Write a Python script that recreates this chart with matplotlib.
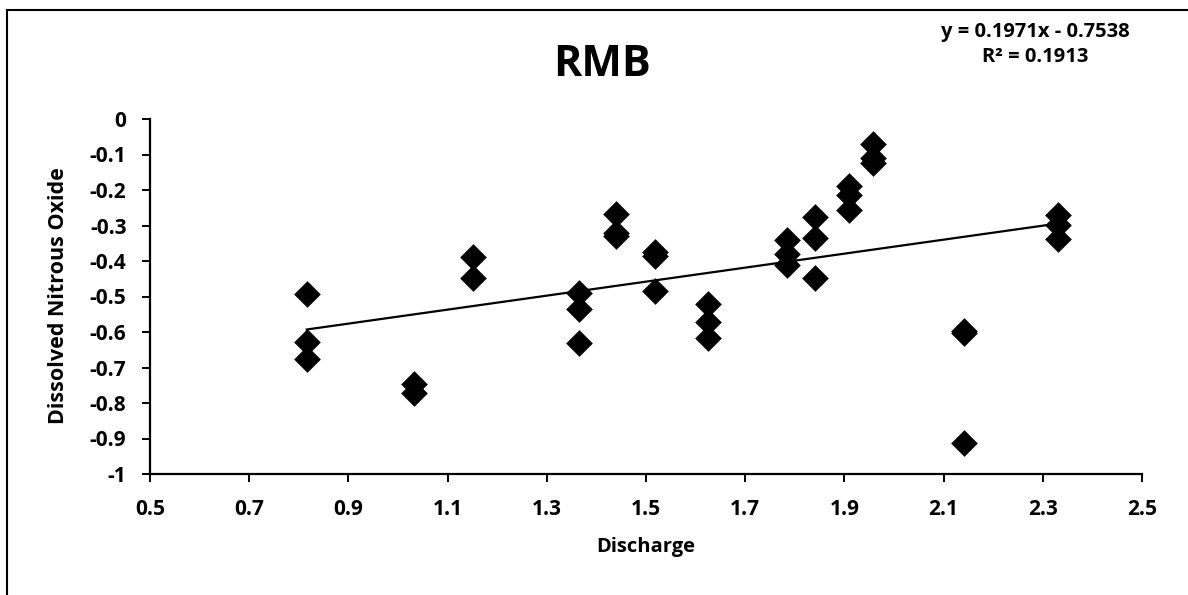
import matplotlib
matplotlib.use("Agg")
import matplotlib.pyplot as plt
from matplotlib.lines import Line2D
import numpy as np

# Discharge vs dissolved nitrous oxide, site RMB
discharge = [0.816, 0.816, 0.816,
             1.032, 1.032,
             1.152, 1.152,
             1.365, 1.365, 1.365,
             1.440, 1.440, 1.440,
             1.519, 1.519, 1.519,
             1.626, 1.626, 1.626,
             1.784, 1.784, 1.784,
             1.841, 1.841, 1.841,
             1.909, 1.909, 1.909,
             1.957, 1.957, 1.957,
             2.141, 2.141, 2.141,
             2.330, 2.330, 2.330]
n2o = [-0.494, -0.628, -0.675,
       -0.746, -0.772,
       -0.388, -0.447,
       -0.489, -0.536, -0.630,
       -0.268, -0.322, -0.330,
       -0.376, -0.386, -0.485,
       -0.520, -0.573, -0.617,
       -0.341, -0.379, -0.412,
       -0.276, -0.334, -0.449,
       -0.190, -0.214, -0.257,
       -0.071, -0.111, -0.123,
       -0.596, -0.604, -0.913,
       -0.271, -0.299, -0.337]

slope = 0.1971
intercept = -0.7538
r_squared = 0.1913

x_ticks = [0.5, 0.7, 0.9, 1.1, 1.3, 1.5, 1.7, 1.9, 2.1, 2.3, 2.5]
y_ticks = [0, -0.1, -0.2, -0.3, -0.4, -0.5, -0.6, -0.7, -0.8, -0.9, -1]
y_labels = ["0", "-0.1", "-0.2", "-0.3", "-0.4", "-0.5", "-0.6", "-0.7", "-0.8", "-0.9", "-1"]

font = "Open Sans"

fig = plt.figure(figsize=(11.88, 5.95), dpi=100)
fig.patch.set_facecolor("white")
ax = fig.add_axes([150 / 1188, 1 - 474 / 595, (1142 - 150) / 1188, (474 - 119) / 595])

ax.scatter(discharge, n2o, marker="D", s=185, color="black", zorder=3, linewidths=0)

xs = np.array([min(discharge), max(discharge)])
ax.plot(xs, slope * xs + intercept, color="black", linewidth=1.6, zorder=2)

ax.set_xlim(0.5, 2.5)
ax.set_ylim(-1, 0)
ax.set_xticks(x_ticks)
ax.set_xticklabels([f"{t:.1f}" for t in x_ticks])
ax.set_yticks(y_ticks)
ax.set_yticklabels(y_labels)

for side in ("top", "right"):
    ax.spines[side].set_visible(False)
for side in ("left", "bottom"):
    ax.spines[side].set_linewidth(1.6)
    ax.spines[side].set_color("black")

ax.tick_params(axis="y", direction="out", length=6, width=1.4, color="black",
               labelsize=15, pad=11)
ax.tick_params(axis="x", direction="out", length=6, width=1.4, color="black",
               labelsize=15, pad=12)
for lab in ax.get_xticklabels() + ax.get_yticklabels():
    lab.set_fontfamily(font)
    lab.set_fontweight("bold")

ax.set_xlabel("Discharge", fontsize=14.5, fontweight="bold", family=font)
ax.set_ylabel("Dissolved Nitrous Oxide", fontsize=15.5, fontweight="bold", family=font)
ax.xaxis.set_label_coords((646 - 150) / 992, (474 - 537) / 355)
ax.yaxis.set_label_coords((69 - 150) / 992, 0.5 + (355 / 2 - (296 - 119)) / 355)

fig.text(602 / 1188, 1 - 64 / 595, "RMB", ha="center", va="center",
         fontsize=31, fontweight="bold", family=font)
fig.text(1035 / 1188, 1 - 32 / 595, f"y = {slope:.4f}x - {abs(intercept):.4f}",
         ha="center", va="center", fontsize=14.5, fontweight="bold", family=font)
fig.text(1035 / 1188, 1 - 57 / 595, f"R² = {r_squared:.4f}",
         ha="center", va="center", fontsize=14.5, fontweight="bold", family=font)

# chart area frame
fig.add_artist(Line2D([7 / 1188, 1.0], [1 - 10 / 595, 1 - 10 / 595],
                      transform=fig.transFigure, color="black", linewidth=1.5))
fig.add_artist(Line2D([7 / 1188, 7 / 1188], [1 - 10 / 595, 0.0],
                      transform=fig.transFigure, color="black", linewidth=1.5))

fig.savefig("out.png", dpi=100, facecolor="white")
